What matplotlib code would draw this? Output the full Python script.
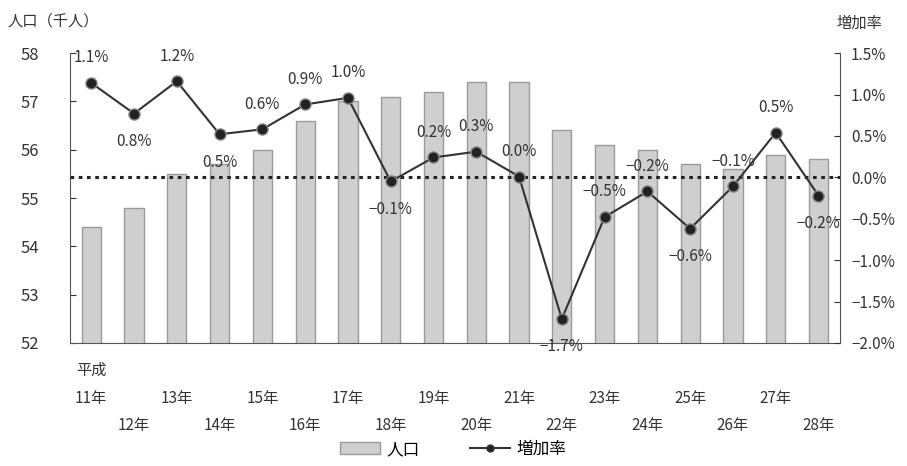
import matplotlib.pyplot as plt
from matplotlib.lines import Line2D
from matplotlib.patches import Patch

plt.rcParams['font.family'] = ['Noto Sans CJK JP', 'DejaVu Sans']

years = ["11年", "12年", "13年", "14年", "15年", "16年", "17年", "18年", "19年",
         "20年", "21年", "22年", "23年", "24年", "25年", "26年", "27年", "28年"]
population = [54.4, 54.8, 55.5, 55.7, 56.0, 56.6, 57.0, 57.1, 57.2,
              57.4, 57.4, 56.4, 56.1, 56.0, 55.7, 55.6, 55.9, 55.8]
growth = [1.14, 0.77, 1.16, 0.52, 0.58, 0.88, 0.96, -0.05, 0.24,
          0.31, 0.01, -1.71, -0.48, -0.17, -0.62, -0.11, 0.54, -0.22]
growth_labels = ["1.1%", "0.8%", "1.2%", "0.5%", "0.6%", "0.9%", "1.0%", "−0.1%", "0.2%",
                 "0.3%", "0.0%", "−1.7%", "−0.5%", "−0.2%", "−0.6%", "−0.1%", "0.5%", "−0.2%"]
label_above = [True, False, True, False, True, True, True, False, True,
               True, True, False, True, True, False, True, True, False]

txt = "#333333"
fig = plt.figure(figsize=(9.07, 4.66), dpi=100)
ax = fig.add_axes([0.077, 0.264, 0.849, 0.622])
x = list(range(len(years)))

ax.bar(x, population, width=0.45, color="#cfcfcf", edgecolor="#9a9a9a", linewidth=1.0, zorder=2)
ax.set_ylim(52, 58)
ax.set_xlim(-0.5, len(years) - 0.5)
ax.set_yticks(range(52, 59))
ax.tick_params(axis="y", labelsize=12, colors=txt, length=4, direction="in", pad=22)
ax.set_xticks([])
for s in ["top", "right"]:
    ax.spines[s].set_visible(False)
ax.spines["left"].set_color("#555555")
ax.spines["bottom"].set_color("#555555")

ax2 = ax.twinx()
ax2.set_ylim(-2.0, 1.5)
ticks = [-2.0, -1.5, -1.0, -0.5, 0.0, 0.5, 1.0, 1.5]
ax2.set_yticks(ticks)
ax2.set_yticklabels([f"{t:.1f}%".replace("-", "−") for t in ticks])
ax2.tick_params(axis="y", labelsize=11, colors=txt, length=4, direction="in", pad=8)
for s in ["top", "left", "bottom"]:
    ax2.spines[s].set_visible(False)
ax2.spines["right"].set_color("#555555")

ax2.axhline(0, color="#222222", linestyle=(0, (1.2, 1.5)), linewidth=2.2, zorder=3)
ax2.plot(x, growth, color="#333333", linewidth=1.5, marker="o", markersize=8,
         markerfacecolor="#222222", markeredgecolor="#888888", zorder=4)

for xi, g, lab, up in zip(x, growth, growth_labels, label_above):
    ax2.annotate(lab, (xi, g), xytext=(0, 12 if up else -14), textcoords="offset points",
                 ha="center", va="bottom" if up else "top", fontsize=11, color=txt, zorder=5)

tr = ax.get_xaxis_transform()
ax.text(0, -0.095, "平成", transform=tr, ha="center", va="center", fontsize=11, color=txt)
for xi, y in zip(x, years):
    ax.text(xi, -0.19 if xi % 2 == 0 else -0.283, y, transform=tr,
            ha="center", va="center", fontsize=11, color=txt)

fig.text(0.008, 0.955, "人口（千人）", ha="left", va="center", fontsize=11, color=txt)
fig.text(0.922, 0.95, "増加率", ha="left", va="center", fontsize=11, color=txt)

handles = [Patch(facecolor="#cfcfcf", edgecolor="#9a9a9a"),
           Line2D([0], [0], color="#333333", marker="o", markersize=5, markerfacecolor="#222222")]
fig.legend(handles, ["人口", "増加率"], loc="lower center", bbox_to_anchor=(0.5, -0.015),
           ncol=2, frameon=False, fontsize=12, columnspacing=3, handlelength=2.4, handletextpad=0.4)

fig.savefig("out.png", dpi=100)
